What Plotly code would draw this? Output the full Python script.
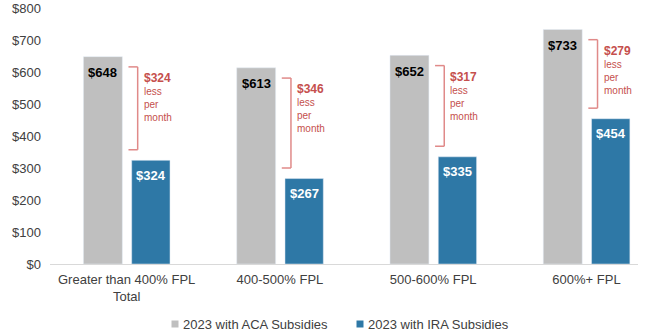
import plotly.graph_objects as go

categories = ["Greater than 400% FPL<br>Total", "400-500% FPL", "500-600% FPL", "600%+ FPL"]
aca_values = [648, 613, 652, 733]
ira_values = [324, 267, 335, 454]
series_names = ["2023 with ACA Subsidies", "2023 with IRA Subsidies"]
y_ticks = [0, 100, 200, 300, 400, 500, 600, 700, 800]

GRAY = "#BFBFBF"
BLUE = "#2E78A6"
RED = "#C54F4D"
BRACKET = "#E08A89"
FONT = "Liberation Sans, Arial, sans-serif"

W, H = 650, 332
ML, MR, MT, MB = 50, 12, 8, 68
PW, PH = W - ML - MR, H - MT - MB

G_OFF, G_W = -0.282, 0.254
B_OFF, B_W = 0.033, 0.250

fig = go.Figure()
fig.add_trace(go.Bar(x=categories, y=aca_values, name=series_names[0], marker_color=GRAY,
                     offset=G_OFF, width=G_W, showlegend=False, hoverinfo="skip"))
fig.add_trace(go.Bar(x=categories, y=ira_values, name=series_names[1], marker_color=BLUE,
                     offset=B_OFF, width=B_W, showlegend=False, hoverinfo="skip"))

annotations = []
shapes = []
for i, (a, b) in enumerate(zip(aca_values, ira_values)):
    # value labels
    annotations.append(dict(x=i + G_OFF + G_W / 2, y=a, xref="x", yref="y", text=f"<b>${a}</b>",
                            showarrow=False, yanchor="middle", yshift=-16,
                            font=dict(family=FONT, size=13, color="#000000")))
    annotations.append(dict(x=i + B_OFF + B_W / 2, y=b, xref="x", yref="y", text=f"<b>${b}</b>",
                            showarrow=False, yanchor="middle", yshift=-15,
                            font=dict(family=FONT, size=13, color="#FFFFFF")))
    # bracket
    xv, xt = i + 0.072, i + 0.012
    ytop, ybot = a - 32, b + 33
    for (x0, y0, x1, y1) in [(xt, ytop, xv, ytop), (xv, ytop, xv, ybot), (xt, ybot, xv, ybot)]:
        shapes.append(dict(type="line", xref="x", yref="y", x0=x0, y0=y0, x1=x1, y1=y1,
                           line=dict(color=BRACKET, width=1.5)))
    diff = a - b
    annotations.append(dict(x=xv, y=ytop, xref="x", yref="y", xanchor="left", yanchor="top",
                            xshift=4, yshift=-2, align="left", showarrow=False,
                            text=f"<b><span style='font-size:12px'>${diff}</span></b><br>less<br>per<br>month",
                            font=dict(family=FONT, size=10, color=RED)))

# legend (drawn manually to match compact swatches)
legend_items = [(series_names[0], GRAY, 171.5), (series_names[1], BLUE, 356.5)]
for name, col, px in legend_items:
    py = 324
    shapes.append(dict(type="rect", xref="paper", yref="paper",
                       x0=(px - ML) / PW, x1=(px + 7 - ML) / PW,
                       y0=(MT + PH - (py + 3.5)) / PH, y1=(MT + PH - (py - 3.5)) / PH,
                       fillcolor=col, line=dict(width=0)))
    annotations.append(dict(x=(px + 9 - ML) / PW, y=(MT + PH - py) / PH, xref="paper", yref="paper",
                            xanchor="left", yanchor="middle", showarrow=False, text=name,
                            font=dict(family=FONT, size=13, color="#404040")))

fig.update_layout(
    width=W, height=H, margin=dict(l=ML, r=MR, t=MT, b=MB, autoexpand=False),
    paper_bgcolor="white", plot_bgcolor="white", barmode="overlay",
    showlegend=False, annotations=annotations, shapes=shapes,
    font=dict(family=FONT, size=13, color="#404040"),
)
fig.update_xaxes(type="category", range=[-0.5, 3.336], showline=True, linecolor="#D9D9D9", linewidth=1,
                 showgrid=False, ticks="", ticklabelstandoff=3, automargin=False,
                 tickfont=dict(family=FONT, size=13, color="#404040"), fixedrange=True)
fig.update_yaxes(range=[0, 800], tickvals=y_ticks, ticktext=[f"${v}" for v in y_ticks],
                 showgrid=False, zeroline=False, showline=False, ticks="", ticklabelstandoff=8,
                 automargin=False, tickfont=dict(family=FONT, size=13, color="#404040"), fixedrange=True)

fig.write_html("out.html", config={"displayModeBar": False})
